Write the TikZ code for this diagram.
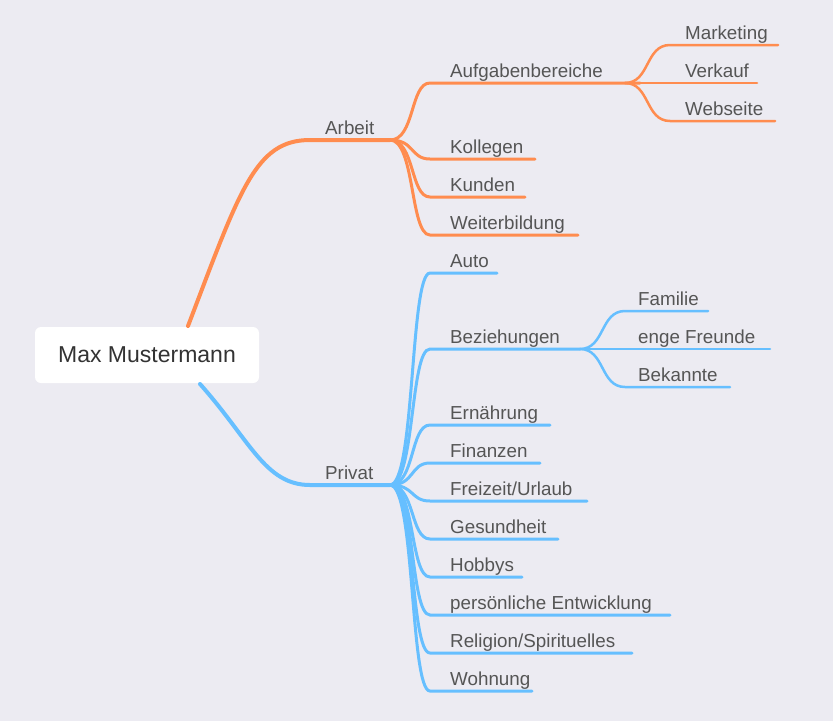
\documentclass[tikz,border=0pt]{standalone}
\usepackage{fontspec}
\setmainfont{Liberation Sans}
\definecolor{bg}{HTML}{ECEBF2}
\definecolor{org}{HTML}{FF8C4F}
\definecolor{blu}{HTML}{66BFFF}
\definecolor{txt}{HTML}{555555}
\begin{document}
\begin{tikzpicture}[x=1pt,y=-1pt,
  lbl/.style={anchor=base west,inner sep=0pt,text=txt,font=\fontsize{18.8}{20}\selectfont},
  rootbox/.style={fill=white,rounded corners=6pt,minimum width=224pt,minimum height=56pt,text=black!80,font=\fontsize{23}{25}\selectfont},
  ob/.style={draw=org,line width=3pt,line cap=round},
  bb/.style={draw=blu,line width=3pt,line cap=round}]
\useasboundingbox[fill=bg] (0,0) rectangle (833,721);
\node[rootbox] (root) at (147,355) {Max Mustermann};
\coordinate (rt) at (188,326);
\coordinate (rb) at (200,384);
% Arbeit
\coordinate (a0) at (310,140); \coordinate (a1) at (390,140);
\node[lbl] (arbeit) at (325,134) {Arbeit};
\draw[ob,line width=4pt] (rt) .. controls (240,190) and (255,140) .. (a0) -- (a1);
% Privat
\coordinate (p0) at (310,485); \coordinate (p1) at (390,485);
\node[lbl] (privat) at (325,479) {Privat};
\draw[bb,line width=4pt] (rb) .. controls (250,440) and (265,485) .. (p0) -- (p1);
% Arbeit children
\foreach \n/\y/\e/\t in {ag/83/640/Aufgabenbereiche,ko/159/535/Kollegen,ku/197/525/Kunden,wb/235/578/Weiterbildung}{
  \coordinate (\n0) at (430,\y); \coordinate (\n1) at (\e,\y);
  \node[lbl] (\n) at (450,\y-6) {\t};
  \draw[ob] (a1) .. controls (415,140) and (410,\y) .. (\n0) -- (\n1);
}
\coordinate (ag2) at (625,83);
\foreach \n/\y/\e/\t in {mk/45/778/Marketing,vk/83/757/Verkauf,ws/121/775/Webseite}{
  \coordinate (\n0) at (670,\y); \coordinate (\n1) at (\e,\y);
  \node[lbl] (\n) at (685,\y-6) {\t};
  \draw[ob,line width=2.5pt] (ag2) .. controls (650,83) and (645,\y) .. (\n0) -- (\n1);
}
% Privat children
\foreach \n/\y/\e/\t in {au/273/497/Auto,bz/349/580/Beziehungen,er/425/550/Ernährung,fi/463/540/Finanzen,fu/501/587/{Freizeit/Urlaub},ge/539/558/Gesundheit,ho/577/522/Hobbys,pe/615/670/persönliche Entwicklung,re/653/632/{Religion/Spirituelles},wo/691/532/Wohnung}{
  \coordinate (\n0) at (430,\y); \coordinate (\n1) at (\e,\y);
  \node[lbl] (\n) at (450,\y-6) {\t};
  \draw[bb] (p1) .. controls (415,485) and (410,\y) .. (\n0) -- (\n1);
}
\coordinate (bz2) at (580,349);
\foreach \n/\y/\e/\t in {fa/311/708/Familie,ef/349/770/enge Freunde,bk/387/730/Bekannte}{
  \coordinate (\n0) at (625,\y); \coordinate (\n1) at (\e,\y);
  \node[lbl] (\n) at (638,\y-6) {\t};
  \draw[bb,line width=2.5pt] (bz2) .. controls (605,349) and (600,\y) .. (\n0) -- (\n1);
}
\end{tikzpicture}
\end{document}
